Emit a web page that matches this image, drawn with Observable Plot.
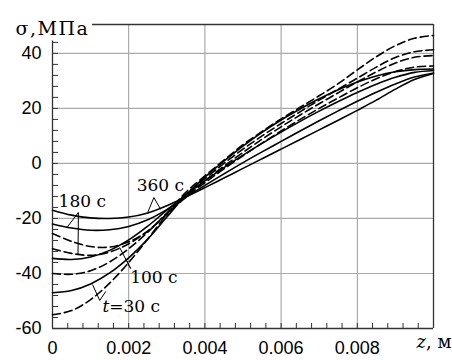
<!DOCTYPE html>
<html><head><meta charset="utf-8">
<script src="https://cdn.jsdelivr.net/npm/d3@7"></script>
<script src="https://cdn.jsdelivr.net/npm/@observablehq/plot@0.6"></script>
<style>body{margin:0;background:#fff}</style>
</head><body><div id="chart"></div>
<script>
// z positions (m)
const zPos = [0, 0.0005, 0.001, 0.0015, 0.002, 0.0025, 0.003, 0.0035, 0.004, 0.0045, 0.005, 0.0055, 0.006, 0.0065, 0.007, 0.0075, 0.008, 0.0085, 0.009, 0.0095, 0.01];
// solid curves (MPa)
const sol360 = [-17, -18.8, -19.8, -20, -19.5, -18, -15.4, -12.2, -8.8, -5.3, -1.8, 1.7, 5.2, 8.7, 12.2, 15.7, 19.3, 23, 27, 30.5, 32.7];
const sol180 = [-22, -23.5, -24.3, -24.1, -22.9, -20.5, -16.8, -12.3, -8, -3.8, 0.3, 4.2, 8, 11.8, 15.5, 19.1, 22.6, 25.9, 28.9, 31.4, 32.9];
const sol100 = [-34.5, -34.9, -34, -31.6, -27.8, -22.8, -17, -11.5, -6.3, -1.5, 3, 7.3, 11.4, 15.3, 19, 22.5, 25.8, 28.8, 31.3, 33.1, 33.8];
const sol30  = [-47, -46.2, -43.8, -39.8, -34.3, -27.5, -19.5, -11.5, -5, 0.8, 6.3, 11.3, 15.8, 19.8, 23.5, 26.8, 29.6, 31.8, 33.3, 34.1, 34.3];
// dashed curves (MPa)
const dash360 = [-25.5, -28.3, -30.2, -30.4, -28.5, -24.6, -18.5, -12.3, -7, -2, 2.8, 7.4, 11.8, 16, 20, 23.8, 27.5, 30.8, 33.4, 35, 35.4];
const dash180 = [-31, -32.7, -33.4, -32.2, -29.2, -24.6, -18.3, -11.8, -6.3, -1, 4, 8.8, 13.3, 17.6, 21.7, 25.7, 29.6, 33.3, 36.5, 38.6, 39.2];
const dash100 = [-40, -40.3, -39, -35.8, -31, -25, -18, -11.2, -5.5, 0, 5.2, 10, 14.5, 18.8, 23, 27, 31, 35, 38.5, 40.6, 41.3];
const dash30  = [-55, -53.5, -49.5, -43.5, -36, -27.5, -18.5, -10.5, -4.5, 1.2, 6.8, 11.6, 16.2, 20.4, 24.6, 29, 34, 38.8, 42.8, 45.5, 46.5];

// ticks
const xLabelTicks = [0, 0.002, 0.004, 0.006, 0.008];
const xGridTicks = [0.002, 0.004, 0.006, 0.008];
const xMinorTicks = d3.range(1, 25).map(i => +(i * 0.0004).toFixed(4));
const yLabelTicks = [-60, -40, -20, 0, 20, 40];
const yGridTicks = [-40, -20, 0, 20, 40];
const yMinorTicks = d3.range(-56, 45, 4);

// annotations (data units)
const labels = [
  {text: "180 c", z: 0.00016, s: -14.0},
  {text: "360 c", z: 0.00221, s: -8.2},
  {text: "100 c", z: 0.00204, s: -41.3},
  {text: "t=30 c", z: 0.00131, s: -51.9}
];
const leaders = [
  {z1: 0.00068, s1: -17.8, z2: 0.00038, s2: -23.3},
  {z1: 0.00068, s1: -17.8, z2: 0.00067, s2: -32.9},
  {z1: 0.00266, s1: -12.4, z2: 0.0025, s2: -17.8},
  {z1: 0.00266, s1: -12.4, z2: 0.00284, s2: -16.7},
  {z1: 0.00205, s1: -38.2, z2: 0.00176, s2: -30.5},
  {z1: 0.00205, s1: -38.2, z2: 0.00192, s2: -34.5},
  {z1: 0.00124, s1: -49.8, z2: 0.00105, s2: -44},
  {z1: 0.00124, s1: -49.8, z2: 0.0014, s2: -46.5}
];

const yMin = -60, yTop = 50.5;
const solid = [["360", sol360], ["180", sol180], ["100", sol100], ["30", sol30]]
  .flatMap(([k, arr]) => arr.map((v, i) => ({z: zPos[i], s: v, k})));
const dashed = [["360", dash360], ["180", dash180], ["100", dash100], ["30", dash30]]
  .flatMap(([k, arr]) => arr.map((v, i) => ({z: zPos[i], s: v, k})));

const W = 452, H = 360, mT = 24, mR = 19, mB = 32, mL = 52;
const serifFam = "DejaVu Serif";
const sansFam = "Liberation Sans";

const chart = Plot.plot({
  width: W, height: H,
  marginTop: mT, marginRight: mR, marginBottom: mB, marginLeft: mL,
  style: {background: "white", color: "black", fontSize: "18px"},
  x: {domain: [0, 0.01], axis: null},
  y: {domain: [yMin, yTop], axis: null},
  marks: [
    Plot.ruleX(xGridTicks, {y1: yMin, y2: yTop, stroke: "#999", strokeWidth: 1}),
    Plot.ruleY(yGridTicks, {x1: 0, x2: 0.01, stroke: "#aaa", strokeWidth: 1.2}),
    Plot.tickX(xMinorTicks, {x: d => d, insetTop: H - mT - mB - 5, stroke: "#333"}),
    Plot.tickY(yMinorTicks, {y: d => d, insetRight: W - mL - mR - 6, stroke: "#333"}),
    Plot.ruleX([0], {y1: yMin, y2: 44.5, stroke: "#333", strokeWidth: 1.3}),
    Plot.ruleY([yMin], {x1: 0, x2: 0.01, stroke: "#333", strokeWidth: 1.3}),
    Plot.ruleX([0.01], {y1: yMin, y2: yTop, stroke: "#333", strokeWidth: 1.3}),
    Plot.ruleY([yTop], {x1: 0.00105, x2: 0.01, stroke: "#333", strokeWidth: 1.3}),
    Plot.line(solid, {x: "z", y: "s", z: "k", stroke: "black", strokeWidth: 1.6, curve: "catmull-rom"}),
    Plot.line(dashed, {x: "z", y: "s", z: "k", stroke: "black", strokeWidth: 1.6, strokeDasharray: "8,4", curve: "catmull-rom"}),
    Plot.link(leaders, {x1: "z1", y1: "s1", x2: "z2", y2: "s2", stroke: "black", strokeWidth: 1}),
    Plot.text(labels, {x: "z", y: "s", text: "text", textAnchor: "start", fontFamily: serifFam, fontSize: 17, fill: "black"}),
    Plot.text(xLabelTicks, {x: d => d, y: yMin, dy: 13, lineAnchor: "top", text: d => d === 0 ? "0" : d.toFixed(3), fontFamily: sansFam, fontSize: 18}),
    Plot.text(yLabelTicks, {x: 0, y: d => d, dx: -11, textAnchor: "end", text: d => String(d), fontFamily: sansFam, fontSize: 18}),
    Plot.text(["σ,МПа"], {frameAnchor: "top-left", dx: -37, dy: -3, textAnchor: "start", fontFamily: serifFam, fontSize: 19}),
    Plot.text(["z, м"], {frameAnchor: "bottom-right", dx: 18, dy: 19.6, textAnchor: "end", fontFamily: serifFam, fontSize: 18})
  ]
});

// italic variables and spacing
d3.select(chart).selectAll("text").each(function() {
  const t = this.textContent;
  const sel = d3.select(this);
  if (t === "σ,МПа") sel.attr("letter-spacing", 1.5);
  if (t === "t=30 c" || t === "z, м") {
    sel.text(null);
    sel.append("tspan").attr("font-style", "italic").text(t[0]);
    sel.append("tspan").text(t.slice(1));
  }
});
document.getElementById("chart").appendChild(chart);
</script>
</body></html>
